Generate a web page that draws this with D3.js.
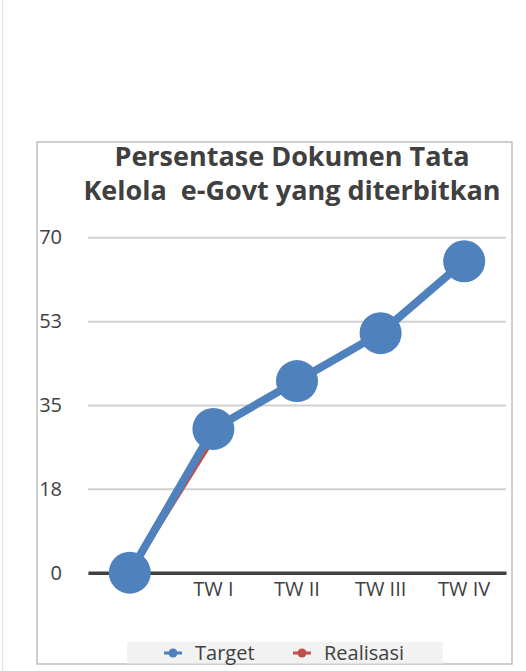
<!DOCTYPE html>
<html>
<head>
<meta charset="utf-8">
<script src="https://cdn.jsdelivr.net/npm/d3@7"></script>
<style>
  body { margin: 0; background: #fff; }
  text { font-family: "Open Sans", sans-serif; fill: #404040; }
</style>
</head>
<body>
<div id="chart"></div>
<script>
var categories = ["", "TW I", "TW II", "TW III", "TW IV"];
var target = [0, 30, 40, 50, 65];
var realisasi = [0, 28, null, null, null];
var tickValues = [0, 17.5, 35, 52.5, 70];
var tickLabels = ["0", "18", "35", "53", "70"];
var titleLines = ["Persentase Dokumen Tata", "Kelola  e-Govt yang diterbitkan"];

var W = 526, H = 671;
var plot = {left: 88, right: 506, top: 237.3, bottom: 572.7};

var svg = d3.select("#chart").append("svg")
  .attr("width", W)
  .attr("height", H);

// faint page edge on the left
svg.append("line")
  .attr("x1", 2.5).attr("x2", 2.5)
  .attr("y1", 0).attr("y2", H)
  .attr("stroke", "#e3e3e3").attr("stroke-width", 1.5);

// chart frame
svg.append("rect")
  .attr("x", 37).attr("y", 142)
  .attr("width", 475).attr("height", 522)
  .attr("fill", "#fff")
  .attr("stroke", "#bfbfbf").attr("stroke-width", 1.5);

var x = d3.scaleBand().domain(categories).range([plot.left, plot.right]).padding(0);
var y = d3.scaleLinear().domain([0, 70]).range([plot.bottom, plot.top]);
var cx = function(i) { return x(categories[i]) + x.bandwidth() / 2; };

// gridlines + y labels
var yAxis = d3.axisLeft(y)
  .tickValues(tickValues)
  .tickSize(-(plot.right - plot.left))
  .tickPadding(26)
  .tickFormat(function(d, i) { return tickLabels[i]; });

var gy = svg.append("g")
  .attr("transform", "translate(" + plot.left + ",0)")
  .call(yAxis);
gy.select(".domain").remove();
gy.selectAll("line").attr("stroke", "#d0d0d0").attr("stroke-width", 2);
gy.selectAll("text")
  .attr("font-size", 20)
  .attr("fill", "#404040")
  .style("font-family", "'Open Sans', sans-serif");

// category axis
var xAxis = d3.axisBottom(x).tickSize(0).tickPadding(9);
var gx = svg.append("g")
  .attr("transform", "translate(0," + y(0) + ")")
  .call(xAxis);
gx.select(".domain").attr("stroke", "#404040").attr("stroke-width", 3.5);
gx.selectAll("text")
  .attr("font-size", 20)
  .attr("fill", "#404040")
  .style("font-family", "'Open Sans', sans-serif");

var line = d3.line()
  .defined(function(d) { return d != null; })
  .x(function(d, i) { return cx(i); })
  .y(function(d) { return y(d); });

// realisasi (behind)
svg.append("path")
  .datum(realisasi)
  .attr("fill", "none")
  .attr("stroke", "#c0504d")
  .attr("stroke-width", 4.5)
  .attr("d", line);

svg.selectAll(".dot-r")
  .data(realisasi)
  .enter().append("circle")
  .filter(function(d) { return d != null; })
  .attr("class", "dot-r")
  .attr("cx", function(d, i) { return cx(i); })
  .attr("cy", function(d) { return y(d); })
  .attr("r", 7)
  .attr("fill", "#c0504d");

// target (on top)
svg.append("path")
  .datum(target)
  .attr("fill", "none")
  .attr("stroke", "#4f81bd")
  .attr("stroke-width", 8)
  .attr("stroke-linejoin", "round")
  .attr("d", line);

svg.selectAll(".dot-t")
  .data(target)
  .enter().append("circle")
  .attr("class", "dot-t")
  .attr("cx", function(d, i) { return cx(i); })
  .attr("cy", function(d) { return y(d); })
  .attr("r", 21)
  .attr("fill", "#4f81bd");

// title
svg.selectAll(".title")
  .data(titleLines)
  .enter().append("text")
  .attr("class", "title")
  .attr("x", 292)
  .attr("y", function(d, i) { return 166 + i * 34; })
  .attr("text-anchor", "middle")
  .attr("font-size", 27)
  .attr("font-weight", "bold")
  .style("white-space", "pre")
  .text(function(d) { return d; });

// legend
var legend = svg.append("g");
legend.append("rect")
  .attr("x", 127).attr("y", 642)
  .attr("width", 316).attr("height", 21.5)
  .attr("fill", "#f2f2f2");

var legendItems = [
  {name: "Target", color: "#4f81bd", x: 173},
  {name: "Realisasi", color: "#c0504d", x: 302}
];

var li = legend.selectAll(".li")
  .data(legendItems)
  .enter().append("g")
  .attr("transform", function(d) { return "translate(" + d.x + ",653)"; });

li.append("line")
  .attr("x1", -9).attr("x2", 9)
  .attr("stroke", function(d) { return d.color; })
  .attr("stroke-width", 3);
li.append("circle")
  .attr("r", 4.5)
  .attr("fill", function(d) { return d.color; });
li.append("text")
  .attr("x", 22)
  .attr("y", 7)
  .attr("font-size", 20)
  .text(function(d) { return d.name; });
</script>
</body>
</html>
